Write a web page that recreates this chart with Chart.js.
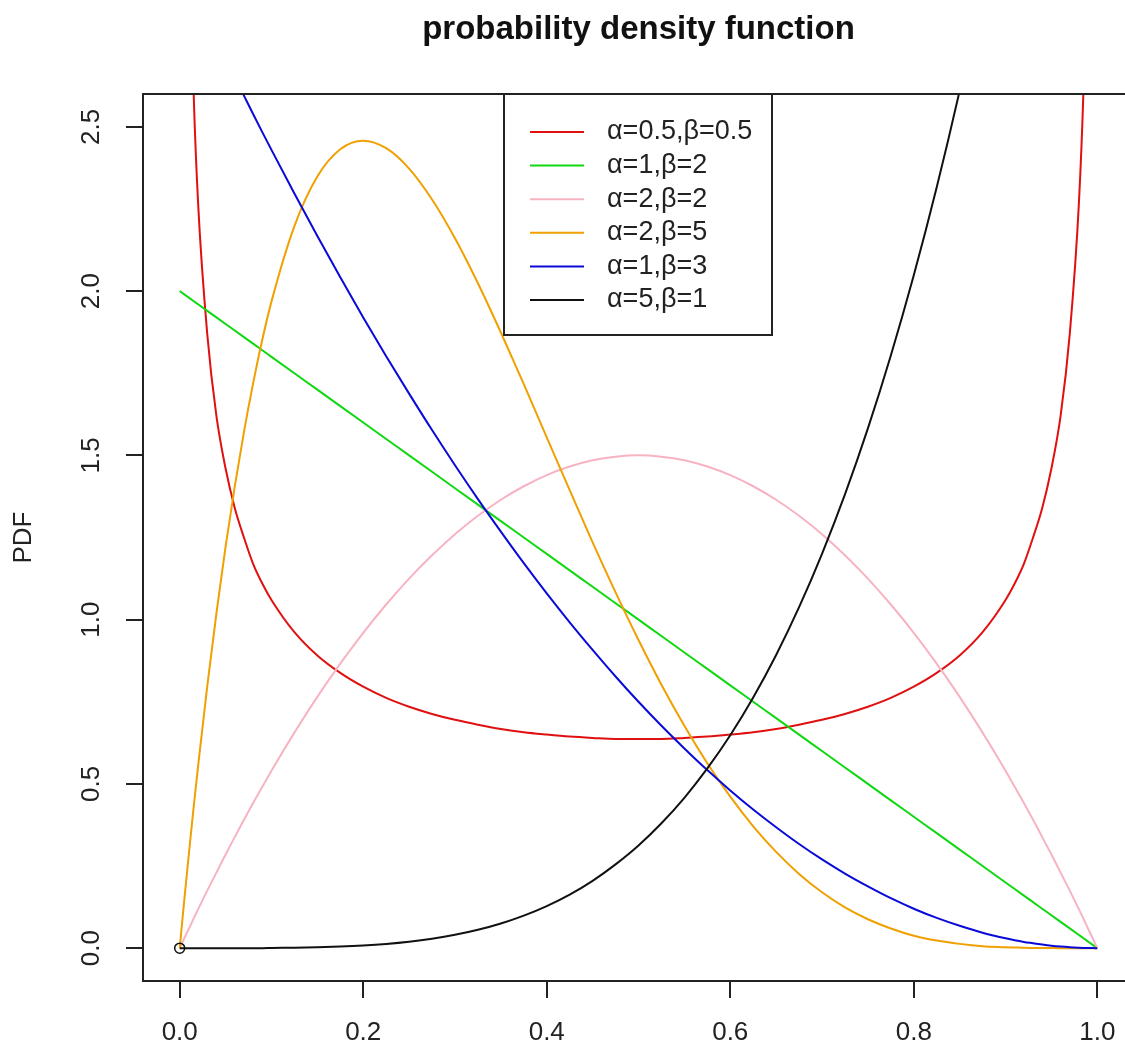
<!DOCTYPE html>
<html>
<head>
<meta charset="utf-8">
<script src="https://cdn.jsdelivr.net/npm/chart.js@4.4.1/dist/chart.umd.min.js"></script>
<style>
  html, body { margin:0; padding:0; overflow:hidden; background:#fff; }
  #wrap { width:1125px; height:1048px; overflow:hidden; }
</style>
</head>
<body>
<div id="wrap"><canvas id="pdf" width="1160" height="1048"></canvas></div>
<script>
//Values
var xs = [0, 0.005, 0.01, 0.015, 0.02, 0.03, 0.04, 0.05, 0.06, 0.07, 0.08, 0.09, 0.1,
  0.125, 0.15, 0.175, 0.2, 0.225, 0.25, 0.275, 0.3, 0.325, 0.35, 0.375, 0.4, 0.425, 0.45, 0.475, 0.5,
  0.525, 0.55, 0.575, 0.6, 0.625, 0.65, 0.675, 0.7, 0.725, 0.75, 0.775, 0.8, 0.825, 0.85, 0.875,
  0.9, 0.91, 0.92, 0.93, 0.94, 0.95, 0.96, 0.97, 0.98, 0.985, 0.99, 0.995, 1.0];
var red = [null, 4.51, 3.20, 2.62, 2.27, 1.87, 1.62, 1.46, 1.34, 1.25, 1.17, 1.11, 1.06,
  0.962, 0.891, 0.838, 0.796, 0.762, 0.735, 0.713, 0.695, 0.680, 0.667, 0.657, 0.650, 0.644, 0.640, 0.637, 0.637,
  0.637, 0.640, 0.644, 0.650, 0.657, 0.667, 0.680, 0.695, 0.713, 0.735, 0.762, 0.796, 0.838, 0.891, 0.962,
  1.06, 1.11, 1.17, 1.25, 1.34, 1.46, 1.62, 1.87, 2.27, 2.62, 3.20, 4.51, null];
var green = [2, 1.99, 1.98, 1.97, 1.96, 1.94, 1.92, 1.90, 1.88, 1.86, 1.84, 1.82, 1.80,
  1.75, 1.70, 1.65, 1.60, 1.55, 1.50, 1.45, 1.40, 1.35, 1.30, 1.25, 1.20, 1.15, 1.10, 1.05, 1.00,
  0.95, 0.90, 0.85, 0.80, 0.75, 0.70, 0.65, 0.60, 0.55, 0.50, 0.45, 0.40, 0.35, 0.30, 0.25,
  0.20, 0.18, 0.16, 0.14, 0.12, 0.10, 0.08, 0.06, 0.04, 0.03, 0.02, 0.01, 0];
var pink = [0, 0.030, 0.059, 0.089, 0.118, 0.175, 0.230, 0.285, 0.338, 0.391, 0.442, 0.491, 0.540,
  0.656, 0.765, 0.866, 0.960, 1.046, 1.125, 1.196, 1.260, 1.316, 1.365, 1.406, 1.440, 1.466, 1.485, 1.496, 1.500,
  1.496, 1.485, 1.466, 1.440, 1.406, 1.365, 1.316, 1.260, 1.196, 1.125, 1.046, 0.960, 0.866, 0.765, 0.656,
  0.540, 0.491, 0.442, 0.391, 0.338, 0.285, 0.230, 0.175, 0.118, 0.089, 0.059, 0.030, 0];
var orange = [0, 0.147, 0.288, 0.424, 0.553, 0.797, 1.019, 1.222, 1.405, 1.571, 1.719, 1.852, 1.968,
  2.198, 2.349, 2.432, 2.458, 2.435, 2.373, 2.279, 2.161, 2.024, 1.874, 1.717, 1.555, 1.394, 1.235, 1.083, 0.938,
  0.802, 0.677, 0.563, 0.461, 0.371, 0.293, 0.226, 0.170, 0.124, 0.088, 0.060, 0.038, 0.023, 0.013, 0.006,
  0.003, 0.002, 0.001, 0.0007, 0.0004, 0.0002, 0, 0, 0, 0, 0, 0, 0];
var blue = [3.0, 2.970, 2.940, 2.911, 2.881, 2.823, 2.765, 2.708, 2.651, 2.595, 2.539, 2.484, 2.430,
  2.297, 2.168, 2.042, 1.920, 1.802, 1.688, 1.577, 1.470, 1.367, 1.268, 1.172, 1.080, 0.992, 0.908, 0.827, 0.750,
  0.677, 0.608, 0.542, 0.480, 0.422, 0.368, 0.317, 0.270, 0.227, 0.188, 0.152, 0.120, 0.092, 0.068, 0.047,
  0.030, 0.024, 0.019, 0.015, 0.011, 0.0075, 0.0048, 0.0027, 0.0012, 0.0007, 0.0003, 0.0001, 0];
var black = [0, 0, 0, 0, 0, 0, 0, 0, 0, 0, 0, 0, 0.0005,
  0.0012, 0.0025, 0.0047, 0.008, 0.0128, 0.0195, 0.0286, 0.0405, 0.0558, 0.075, 0.0989, 0.128, 0.163, 0.205, 0.255, 0.3125,
  0.380, 0.4575, 0.547, 0.648, 0.763, 0.8925, 1.038, 1.2005, 1.381, 1.582, 1.804, 2.048, 2.316, 2.610, 2.931,
  3.281, 3.429, 3.582, 3.740, 3.904, 4.073, 4.247, 4.426, 4.612, 4.707, 4.803, 4.901, 5.0];

var labels = ["α=0.5,β=0.5", "α=1,β=2", "α=2,β=2", "α=2,β=5", "α=1,β=3", "α=5,β=1"];
var colors = ["#e01010", "#10d810", "#f7b3c2", "#f0a000", "#0a0ad8", "#111111"];
var xTicks = [0, 0.2, 0.4, 0.6, 0.8, 1.0];
var yTicks = [0, 0.5, 1.0, 1.5, 2.0, 2.5];
var markX = [0];
var markY = [0];

var FONT = "'Liberation Sans', Arial, sans-serif";

function toPoints(ys){
  var pts = [];
  for(var i = 0; i < xs.length; i++){
    pts.push({x:xs[i], y:ys[i]});
  }
  return pts;
}

var series = [red, green, pink, orange, blue, black];
var datasets = [];
for(var s = 0; s < series.length; s++){
  datasets.push({
    label:labels[s],
    data:toPoints(series[s]),
    borderColor:colors[s],
    borderWidth:2,
    pointRadius:0,
    cubicInterpolationMode:"monotone",
    spanGaps:false,
    order:10 - s
  });
}

//open circle at the origin
datasets.push({
  label:"origin",
  type:"scatter",
  data:markX.map(function(v, i){ return {x:v, y:markY[i]}; }),
  pointRadius:5,
  pointBorderWidth:1.5,
  pointBorderColor:"#111",
  pointBackgroundColor:"rgba(0,0,0,0)",
  showLine:false,
  order:0
});

//frame, rotated y labels, y title and boxed legend
var rPlot = {
  id:"rPlot",
  afterDraw:function(chart){
    var ctx = chart.ctx;
    var a = chart.chartArea;
    var y = chart.scales.y;
    ctx.save();

    ctx.strokeStyle = "#222";
    ctx.lineWidth = 2;
    ctx.strokeRect(a.left, a.top, a.right - a.left, a.bottom - a.top);

    ctx.fillStyle = "#222";
    ctx.font = "26px " + FONT;
    ctx.textAlign = "center";
    ctx.textBaseline = "middle";
    for(var i = 0; i < yTicks.length; i++){
      var py = y.getPixelForValue(yTicks[i]);
      ctx.save();
      ctx.translate(92, py);
      ctx.rotate(-Math.PI / 2);
      ctx.fillText(yTicks[i].toFixed(1), 0, 0);
      ctx.restore();
    }

    ctx.save();
    ctx.translate(24, (a.top + a.bottom) / 2);
    ctx.rotate(-Math.PI / 2);
    ctx.fillText("PDF", 0, 0);
    ctx.restore();

    //legend
    var bx = 504, bw = 268, by = a.top, bh = 241;
    ctx.fillStyle = "#fff";
    ctx.fillRect(bx, by, bw, bh);
    ctx.strokeStyle = "#222";
    ctx.lineWidth = 2;
    ctx.strokeRect(bx, by, bw, bh);
    ctx.textAlign = "left";
    ctx.font = "27px " + FONT;
    for(var k = 0; k < labels.length; k++){
      var ry = 132 + k * 33.6;
      ctx.strokeStyle = colors[k];
      ctx.lineWidth = 2;
      ctx.beginPath();
      ctx.moveTo(530, ry);
      ctx.lineTo(584, ry);
      ctx.stroke();
      ctx.fillStyle = "#222";
      ctx.fillText(labels[k], 607, ry);
    }
    ctx.restore();
  }
};

new Chart(document.getElementById("pdf"), {
  type:"line",
  data:{datasets:datasets},
  options:{
    responsive:false,
    animation:false,
    devicePixelRatio:1,
    layout:{padding:{left:0, right:26, top:0, bottom:0}},
    plugins:{
      legend:{display:false},
      tooltip:{enabled:false},
      title:{
        display:true,
        fullSize:false,
        text:"probability density function",
        color:"#111",
        font:{family:FONT, size:33, weight:"bold"},
        padding:{top:10, bottom:44.4}
      }
    },
    scales:{
      x:{
        type:"linear",
        min:-0.04,
        max:1.04,
        afterBuildTicks:function(sc){ sc.ticks = xTicks.map(function(v){ return {value:v}; }); },
        afterFit:function(sc){ sc.height = 67; },
        grid:{drawOnChartArea:false, drawTicks:true, tickLength:17, color:"#222", lineWidth:2},
        border:{display:false},
        ticks:{
          color:"#222",
          padding:19,
          font:{family:FONT, size:26},
          callback:function(v){ return Number(v).toFixed(1); }
        }
      },
      y:{
        type:"linear",
        min:-0.1,
        max:2.6,
        afterBuildTicks:function(sc){ sc.ticks = yTicks.map(function(v){ return {value:v}; }); },
        afterFit:function(sc){ sc.width = 143; },
        grid:{drawOnChartArea:false, drawTicks:true, tickLength:17, color:"#222", lineWidth:2},
        border:{display:false},
        ticks:{display:false}
      }
    }
  },
  plugins:[rPlot]
});
</script>
</body>
</html>
